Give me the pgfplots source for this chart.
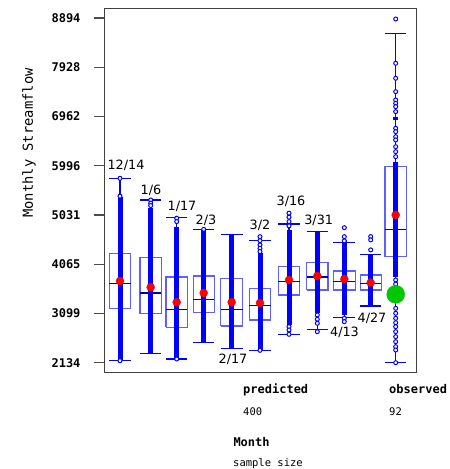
\documentclass[border=0pt]{standalone}
\usepackage{fontspec}
\setmainfont{DejaVu Sans}
\newfontfamily\monof{DejaVu Sans Mono}
\usepackage{pgfplots}
\pgfplotsset{compat=1.18}

\definecolor{bxblue}{RGB}{95,95,255}
\definecolor{medblue}{RGB}{0,0,170}
\definecolor{obsgreen}{RGB}{0,200,0}

\newcommand{\lbl}{\fontsize{12.8}{13}\selectfont}

\pgfplotsset{
  whisk/.style={blue, line width=1.2pt, unbounded coords=jump},
  boxl/.style={bxblue, line width=1.2pt},
  med/.style={medblue, line width=1.2pt},
  dense/.style={blue, line width=5pt},
  pts/.style={only marks, mark=*, mark size=2pt, mark options={draw=blue, fill=white, line width=1pt}},
  meanpt/.style={only marks, mark=*, mark size=4pt, red},
}

\begin{document}
\begin{tikzpicture}[x=1pt,y=1pt]
\path[use as bounding box] (0,0) rectangle (450,469);
\begin{axis}[
  at={(104pt,96.3pt)}, anchor=south west,
  scale only axis, width=312pt, height=364.4pt,
  xmin=104, xmax=416, ymin=1938, ymax=9084,
  xtick=\empty,
  ytick={2134,3099,4065,5031,5996,6962,7928,8894},
  yticklabels={2134,3099,4065,5031,5996,6962,7928,8894},
  tick pos=left, tick align=outside, major tick length=10pt,
  yticklabel style={font=\monof\bfseries\fontsize{12}{12}\selectfont, xshift=-10pt},
  ytick style={draw=black!70, line width=1.2pt},
  axis line style={draw=black!75, line width=1pt},
  clip=false,
]
% whiskers with caps: lower cap, stem, upper cap
\addplot[whisk] coordinates {(109.15,2173) (130.85,2173) (nan,nan) (120,2173) (120,5750) (nan,nan) (109.15,5750) (130.85,5750)};
\addplot[whisk] coordinates {(140.05,2318) (161.35,2318) (nan,nan) (150.7,2318) (150.7,5325) (nan,nan) (140.05,5325) (161.35,5325)};
\addplot[whisk] coordinates {(166.05,2207) (187.35,2207) (nan,nan) (176.7,2207) (176.7,4978) (nan,nan) (166.05,4978) (187.35,4978)};
\addplot[whisk] coordinates {(193.2,2526) (214.2,2526) (nan,nan) (203.7,2526) (203.7,4750) (nan,nan) (193.2,4750) (214.2,4750)};
\addplot[whisk] coordinates {(220.85,2416) (242.55,2416) (nan,nan) (231.7,2416) (231.7,4652) (nan,nan) (220.85,4652) (242.55,4652)};
\addplot[whisk] coordinates {(249.15,2377) (270.85,2377) (nan,nan) (260,2377) (260,4527) (nan,nan) (249.15,4527) (270.85,4527)};
\addplot[whisk] coordinates {(278.15,2691) (299.85,2691) (nan,nan) (289,2691) (289,4854) (nan,nan) (278.15,4854) (299.85,4854)};
\addplot[whisk] coordinates {(306.65,2789) (327.95,2789) (nan,nan) (317.3,2789) (317.3,4703) (nan,nan) (306.65,4703) (327.95,4703)};
\addplot[whisk] coordinates {(333.3,3017) (355.3,3017) (nan,nan) (344.3,3017) (344.3,4487) (nan,nan) (333.3,4487) (355.3,4487)};
\addplot[whisk] coordinates {(360.2,3246) (381.2,3246) (nan,nan) (370.7,3246) (370.7,4260) (nan,nan) (360.2,4260) (381.2,4260)};
\addplot[whisk] coordinates {(385.05,2134) (406.35,2134) (nan,nan) (395.7,2134) (395.7,8594) (nan,nan) (385.05,8594) (406.35,8594)};

% boxes (lower quartile to upper quartile)
\addplot[boxl] coordinates {(109.15,3201) (130.85,3201) (130.85,4279) (109.15,4279) (109.15,3201)};
\addplot[boxl] coordinates {(140.05,3095) (161.35,3095) (161.35,4201) (140.05,4201) (140.05,3095)};
\addplot[boxl] coordinates {(166.05,2828) (187.35,2828) (187.35,3815) (166.05,3815) (166.05,2828)};
\addplot[boxl] coordinates {(193.2,3115) (214.2,3115) (214.2,3834) (193.2,3834) (193.2,3115)};
\addplot[boxl] coordinates {(220.85,2854) (242.55,2854) (242.55,3789) (220.85,3789) (220.85,2854)};
\addplot[boxl] coordinates {(249.15,2971) (270.85,2971) (270.85,3585) (249.15,3585) (249.15,2971)};
\addplot[boxl] coordinates {(278.15,3462) (299.85,3462) (299.85,4017) (278.15,4017) (278.15,3462)};
\addplot[boxl] coordinates {(306.65,3560) (327.95,3560) (327.95,4095) (306.65,4095) (306.65,3560)};
\addplot[boxl] coordinates {(333.3,3560) (355.3,3560) (355.3,3932) (333.3,3932) (333.3,3560)};
\addplot[boxl] coordinates {(360.2,3560) (381.2,3560) (381.2,3854) (360.2,3854) (360.2,3560)};
\addplot[boxl] coordinates {(385.05,4213) (406.35,4213) (406.35,5978) (385.05,5978) (385.05,4213)};

% medians
\addplot[med] coordinates {(109.15,3691) (130.85,3691)};
\addplot[med] coordinates {(140.05,3501) (161.35,3501)};
\addplot[med] coordinates {(166.05,3181) (187.35,3181)};
\addplot[med] coordinates {(193.2,3377) (214.2,3377)};
\addplot[med] coordinates {(220.85,3181) (242.55,3181)};
\addplot[med] coordinates {(249.15,3260) (270.85,3260)};
\addplot[med] coordinates {(278.15,3730) (299.85,3730)};
\addplot[med] coordinates {(306.65,3815) (327.95,3815)};
\addplot[med] coordinates {(333.3,3730) (355.3,3730)};
\addplot[med] coordinates {(360.2,3691) (381.2,3691)};
\addplot[med] coordinates {(385.05,4750) (406.35,4750)};

% dense runs of points
\addplot[dense] coordinates {(120,2173) (120,5390)};
\addplot[dense] coordinates {(150.7,2318) (150.7,5164)};
\addplot[dense] coordinates {(176.7,2207) (176.7,4803)};
\addplot[dense] coordinates {(203.7,2526) (203.7,4750)};
\addplot[dense] coordinates {(231.7,2416) (231.7,4652)};
\addplot[dense] coordinates {(260,2377) (260,4279)};
\addplot[dense] coordinates {(289,2873) (289,4736)};
\addplot[dense] coordinates {(317.3,3103) (317.3,4703)};
\addplot[dense] coordinates {(344.3,3070) (344.3,4540)};
\addplot[dense] coordinates {(370.7,3246) (370.7,4246)};
\addplot[dense] coordinates {(395.7,3820) (395.7,6076)};
\addplot[dense] coordinates {(395.7,6900) (395.7,6950)};

% separate points
\addplot[pts] coordinates {(120,5750) (120,5400) (120,2173)};
\addplot[pts] coordinates {(150.7,5325) (150.7,5263) (150.7,5216)};
\addplot[pts] coordinates {(176.7,4968) (176.7,4901) (176.7,2207)};
\addplot[pts] coordinates {(203.7,4750)};
\addplot[pts] coordinates {(260,4605) (260,4527) (260,4444) (260,4379) (260,4313) (260,2377)};
\addplot[pts] coordinates {(289,5066) (289,4988) (289,4901) (289,4817) (289,2841) (289,2776) (289,2691)};
\addplot[pts] coordinates {(317.3,3070) (317.3,2986) (317.3,2907) (317.3,2742)};
\addplot[pts] coordinates {(344.3,4782) (344.3,4605) (344.3,4523) (344.3,3005) (344.3,2939)};
\addplot[pts] coordinates {(370.7,4607) (370.7,4542) (370.7,4346)};
\addplot[pts] coordinates {
  (395.7,8874) (395.7,8006) (395.7,7712) (395.7,7449) (395.7,7286) (395.7,7221)
  (395.7,7155) (395.7,7057) (395.7,6731) (395.7,6664) (395.7,6566) (395.7,6502)
  (395.7,6370) (395.7,6272) (395.7,6174) (395.7,3756) (395.7,3677) (395.7,3201)
  (395.7,3103) (395.7,3005) (395.7,2918) (395.7,2840) (395.7,2742) (395.7,2644)
  (395.7,2546) (395.7,2448) (395.7,2383) (395.7,2134)};

% means
\addplot[meanpt] coordinates {
  (120,3736) (150.7,3613) (176.7,3319) (203.7,3501) (231.7,3319) (260,3305)
  (289,3756) (317.3,3834) (344.3,3775) (370.7,3703) (395.7,5031)};
\addplot[only marks, mark=*, mark size=9pt, obsgreen] coordinates {(395.7,3475)};

% date labels
\node[font=\lbl] at (axis cs:126,6014) {12/14};
\node[font=\lbl] at (axis cs:151,5510) {1/6};
\node[font=\lbl] at (axis cs:182,5196) {1/17};
\node[font=\lbl] at (axis cs:206,4935) {2/3};
\node[font=\lbl] at (axis cs:260,4837) {3/2};
\node[font=\lbl] at (axis cs:291,5294) {3/16};
\node[font=\lbl] at (axis cs:318.7,4921) {3/31};
\node[font=\lbl] at (axis cs:233,2201) {2/17};
\node[font=\lbl] at (axis cs:344.5,2723) {4/13};
\node[font=\lbl] at (axis cs:372,3005) {4/27};
\end{axis}
\node[rotate=90, font=\monof\fontsize{13.8}{14}\selectfont] at (29,326) {Monthly Streamflow};
\node[anchor=base west, inner sep=0pt, font=\monof\bfseries\fontsize{12}{12}\selectfont] at (243,75) {predicted};
\node[anchor=base west, inner sep=0pt, font=\monof\bfseries\fontsize{12}{12}\selectfont] at (389,75) {observed};
\node[anchor=base west, inner sep=0pt, font=\monof\fontsize{10.5}{11}\selectfont] at (243,53.3) {400};
\node[anchor=base west, inner sep=0pt, font=\monof\fontsize{10.5}{11}\selectfont] at (389,53.3) {92};
\node[anchor=base west, inner sep=0pt, font=\monof\bfseries\fontsize{12}{12}\selectfont] at (233.3,22.3) {Month};
\node[anchor=base west, inner sep=0pt, font=\monof\fontsize{10.5}{11}\selectfont] at (233,2.8) {sample size};
\end{tikzpicture}
\end{document}
